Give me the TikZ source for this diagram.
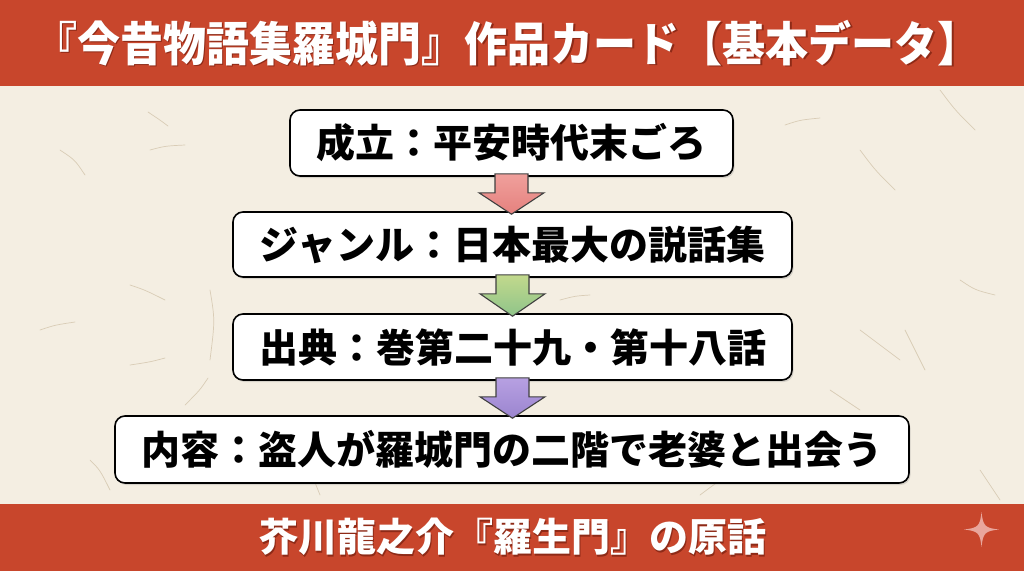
\documentclass[tikz,border=0pt]{standalone}
\usepackage{fontspec}
\setmainfont{Noto Sans CJK JP}
\usetikzlibrary{calc,shadows}
\definecolor{paper}{HTML}{F4EEE2}
\definecolor{fiber}{HTML}{D9CCB6}
\definecolor{band}{HTML}{C8462C}
\definecolor{bandshade}{HTML}{8E2A17}
\definecolor{spark}{HTML}{E9A69C}
\definecolor{pinkA}{HTML}{F0A09C}
\definecolor{pinkB}{HTML}{E5817E}
\definecolor{greenA}{HTML}{C2D98C}
\definecolor{greenB}{HTML}{8FC48A}
\definecolor{purpA}{HTML}{B7A0E2}
\definecolor{purpB}{HTML}{9B85CF}
\tikzset{
  infobox/.style={draw=black, line width=1.6pt, fill=white, rounded corners=10pt,
    inner sep=0pt, font=\bfseries\fontsize{39}{39}\selectfont,
    drop shadow={shadow xshift=1.5pt, shadow yshift=-2pt, opacity=0.25}},
  bandtext/.style={text=white, font=\bfseries\fontsize{#1}{#1}\selectfont},
  fiberline/.style={draw=fiber, line width=0.7pt, line cap=round},
  flowarrow/.style={draw=black!75, line width=1.1pt, line join=miter},
}
% downward block arrow between two boxes
\newcommand{\flowdown}[4]{%
  \path let \p1=(#1.south), \p2=(#2.north) in
    [flowarrow, top color=#3, bottom color=#4]
    (\x1-16.5pt,\y1+3pt) -- (\x1+16.5pt,\y1+3pt) -- (\x1+16.5pt,\y1-16pt)
    -- (\x1+32.5pt,\y1-16pt) -- (\x1,\y2-3pt) -- (\x1-32.5pt,\y1-16pt)
    -- (\x1-16.5pt,\y1-16pt) -- cycle;}
\newcommand{\titletext}{\scalebox{0.915}[1]{『今昔物語集羅城門』作品カード【基本データ】}}
\begin{document}
\begin{tikzpicture}[x=1pt,y=-1pt]
\useasboundingbox (0,0) rectangle (1024,571);
% paper background with a few fibres
\fill[paper] (0,0) rectangle (1024,571);
\draw[fiberline] (148,112) .. controls (160,120) .. (168,126);
\draw[fiberline] (150,150) .. controls (165,146) .. (185,145);
\draw[fiberline] (130,285) .. controls (145,290) .. (165,300);
\draw[fiberline] (210,290) .. controls (215,320) .. (210,360);
\draw[fiberline] (165,358) .. controls (150,362) .. (130,365);
\draw[fiberline] (185,405) .. controls (200,390) .. (208,378);
\draw[fiberline] (60,150) .. controls (75,160) .. (85,175);
\draw[fiberline] (40,330) .. controls (55,325) .. (75,322);
\draw[fiberline] (785,125) .. controls (800,120) .. (820,118);
\draw[fiberline] (860,150) .. controls (875,170) .. (895,190);
\draw[fiberline] (860,330) .. controls (880,345) .. (900,360);
\draw[fiberline] (830,390) .. controls (845,400) .. (860,410);
\draw[fiberline] (905,330) .. controls (915,350) .. (925,370);
\draw[fiberline] (940,90) .. controls (955,110) .. (975,130);
\draw[fiberline] (960,280) .. controls (975,290) .. (995,295);
\draw[fiberline] (700,495) .. controls (720,480) .. (740,470);
\draw[fiberline] (300,440) .. controls (310,470) .. (320,495);
\draw[fiberline] (980,470) .. controls (990,485) .. (1000,500);
\draw[fiberline] (560,300) .. controls (575,296) .. (590,295);
\draw[fiberline] (90,460) .. controls (100,470) .. (110,490);
% title band
\fill[band] (0,0) rectangle (1024,86);
\node[bandtext=47, text=bandshade] at (509,44.5) {\titletext};
\node[bandtext=47] (title) at (507.5,43) {\titletext};
% footer band
\fill[band] (0,504) rectangle (1024,571);
\node[bandtext=39, text=bandshade] at (514,538.5) {芥川龍之介『羅生門』の原話};
\node[bandtext=39] (footer) at (512.5,537) {芥川龍之介『羅生門』の原話};
\fill[spark] (981.5,512) .. controls (983,526) and (985,528) .. (999,529.5)
  .. controls (985,531) and (983,533) .. (981.5,547)
  .. controls (980,533) and (978,531) .. (964,529.5)
  .. controls (978,528) and (980,526) .. (981.5,512) -- cycle;
% information boxes
\node[infobox, minimum width=443pt, minimum height=66pt] (b1) at (511.5,143) {成立：平安時代末ごろ};
\node[infobox, minimum width=559pt, minimum height=65pt] (b2) at (512.5,244.5) {ジャンル：日本最大の説話集};
\node[infobox, minimum width=559pt, minimum height=66pt] (b3) at (512.5,347) {出典：巻第二十九・第十八話};
\node[infobox, minimum width=794pt, minimum height=67pt] (b4) at (512,449.5) {内容：盗人が羅城門の二階で老婆と出会う};
% connecting arrows
\flowdown{b1}{b2}{pinkA}{pinkB}
\flowdown{b2}{b3}{greenA}{greenB}
\flowdown{b3}{b4}{purpA}{purpB}
\end{tikzpicture}
\end{document}
